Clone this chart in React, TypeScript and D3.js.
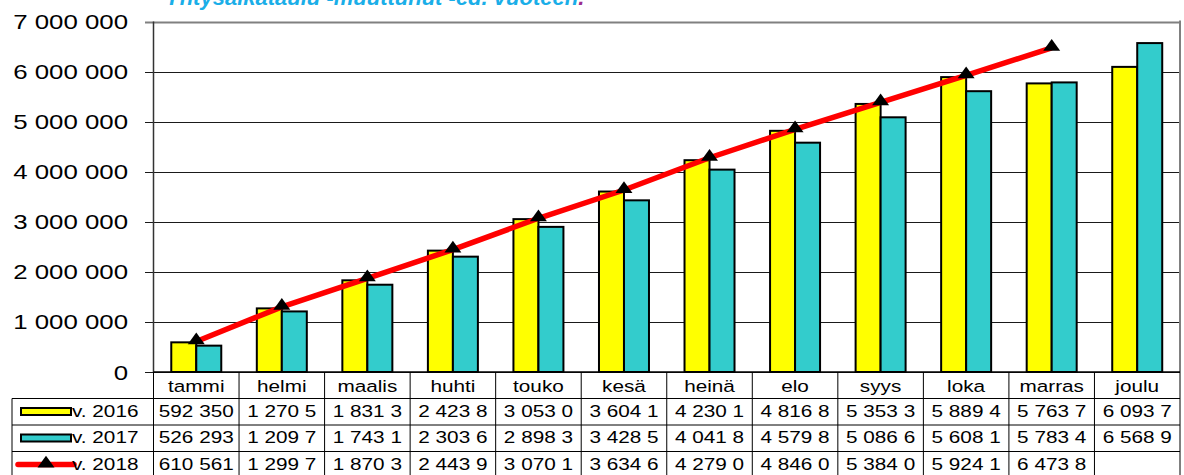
import React from "react";
import * as d3 from "d3";

const months = ["tammi", "helmi", "maalis", "huhti", "touko", "kesä", "heinä", "elo", "syys", "loka", "marras", "joulu"];
const v2016 = [592350, 1270500, 1831300, 2423800, 3053000, 3604100, 4230100, 4816800, 5353300, 5889400, 5763700, 6093700];
const v2017 = [526293, 1209700, 1743100, 2303600, 2898300, 3428500, 4041800, 4579800, 5086600, 5608100, 5783400, 6568900];
const v2018 = [610561, 1299700, 1870300, 2443900, 3070100, 3634600, 4279000, 4846000, 5384000, 5924100, 6473800];
const yTicks = [0, 1000000, 2000000, 3000000, 4000000, 5000000, 6000000, 7000000];
const seriesNames = ["v. 2016", "v. 2017", "v. 2018"];
const title = "Yhtysaikataulu -muuttunut -ed. vuoteen";

const W = 1184;
const H = 475;
const L = 153.5;
const R = 1180;
const T = 21.5;
const B = 372;
const FONT = "'Liberation Sans', Arial, sans-serif";
const SX = 1.22;

const fmt = (v: number) => d3.format(",")(v).replace(/,/g, " ");

// approximate stretched width of digit/space strings
const strWidth = (s: string, size: number) =>
  s.split("").reduce((a, c) => a + (c === " " ? 0.278 : 0.556), 0) * size * SX;

const fitText = (s: string, size: number, maxW: number) => {
  let t = s;
  while (t.length > 0 && strWidth(t, size) > maxW) t = t.slice(0, -1);
  return t.trimEnd();
};

function SText(props: { x: number; y: number; size: number; anchor?: string; children: any; fill?: string; sx?: number }) {
  const { x, y, size, anchor = "start", children, fill = "#000", sx = SX } = props;
  return (
    <text
      transform={`translate(${x},${y}) scale(${sx},1)`}
      fontSize={size}
      fontFamily={FONT}
      textAnchor={anchor}
      fill={fill}
    >
      {children}
    </text>
  );
}

export default function App() {
  const x = d3.scaleBand<string>().domain(months).range([L, R]).paddingInner(0).paddingOuter(0);
  const bw = x.bandwidth();
  const xs = d3.scaleBand<string>().domain(["2016", "2017"]).range([0, bw]).paddingInner(0).paddingOuter(0.711);
  const y = d3.scaleLinear().domain([0, 7000000]).range([B, T]);

  const line = d3
    .line<number>()
    .x((_, i) => (x(months[i]) as number) + bw / 2)
    .y((d) => y(d));

  const rowTops = [B, 398.5, 425, 451.5, 478];
  const tri = d3.symbol().type(d3.symbolTriangle).size(80)() as string;

  const barSeries = [
    { key: "2016", vals: v2016, fill: "#ffff00" },
    { key: "2017", vals: v2017, fill: "#33cccc" },
  ];

  return (
    <svg width={W} height={H} style={{ position: "absolute", left: 0, top: 0, background: "#fff" }}>
      <rect x={0} y={0} width={W} height={H} fill="#fff" />
      {/* clipped title */}
      <text x={165} y={5} fontSize={22} fontWeight="bold" fontStyle="italic" fontFamily={FONT} fill="#1aaee8">
        {title}
        <tspan fill="#9b2d8f">.</tspan>
      </text>

      {/* grid lines */}
      {yTicks.map((t) => (
        <line
          key={t}
          x1={145}
          x2={R}
          y1={Math.round(y(t)) + 0.5}
          y2={Math.round(y(t)) + 0.5}
          stroke={t === 7000000 ? "#808080" : "#1a1a1a"}
          strokeWidth={t === 7000000 ? 2 : 1}
        />
      ))}
      {yTicks.map((t) => (
        <SText key={"l" + t} x={128} y={y(t) + 7.5} size={21} anchor="end" sx={1.23}>
          {fmt(t)}
        </SText>
      ))}
      {/* right border */}
      <line x1={R} x2={R} y1={T - 1} y2={B} stroke="#808080" strokeWidth={2} />
      {/* left axis */}
      <line x1={L} x2={L} y1={T} y2={B} stroke="#333" strokeWidth={1.5} />

      {/* bars */}
      {barSeries.map((s) =>
        s.vals.map((v, i) => {
          const bx = (x(months[i]) as number) + (xs(s.key) as number);
          return (
            <rect
              key={s.key + i}
              x={bx}
              y={y(v)}
              width={xs.bandwidth()}
              height={B - y(v)}
              fill={s.fill}
              stroke="#000"
              strokeWidth={2}
            />
          );
        })
      )}

      {/* 2018 line */}
      <path d={line(v2018) as string} fill="none" stroke="#ff0000" strokeWidth={5.5} strokeLinejoin="round" />
      {v2018.map((v, i) => (
        <path key={"t" + i} d={tri} transform={`translate(${(x(months[i]) as number) + bw / 2},${y(v) - 1}) scale(1.25,1)`} fill="#000" />
      ))}

      {/* data table */}
      <line x1={L} x2={R} y1={B} y2={B} stroke="#000" strokeWidth={1.5} />
      {rowTops.slice(1, 4).map((ry) => (
        <line key={"h" + ry} x1={12} x2={R} y1={ry} y2={ry} stroke="#000" strokeWidth={1} />
      ))}
      <line x1={12} x2={12} y1={rowTops[1]} y2={H} stroke="#000" strokeWidth={1} />
      {months.map((m) => (
        <line key={"v" + m} x1={x(m) as number} x2={x(m) as number} y1={B} y2={H} stroke="#000" strokeWidth={1} />
      ))}
      <line x1={R} x2={R} y1={B} y2={H} stroke="#000" strokeWidth={1} />

      {months.map((m) => (
        <SText key={"m" + m} x={(x(m) as number) + bw / 2} y={391.5} size={17} anchor="middle">
          {m}
        </SText>
      ))}

      {[v2016, v2017, v2018].map((vals, r) =>
        vals.map((v, i) => (
          <SText
            key={"c" + r + i}
            x={(x(months[i]) as number) + bw / 2}
            y={rowTops[r + 1] + 18}
            size={17}
            anchor="middle"
          >
            {fitText(fmt(v), 17, 76)}
          </SText>
        ))
      )}

      {/* legend keys */}
      <rect x={21} y={rowTops[1] + 9.5} width={50} height={7} fill="#ffff00" stroke="#000" strokeWidth={2} />
      <rect x={21} y={rowTops[2] + 9.5} width={50} height={7} fill="#33cccc" stroke="#000" strokeWidth={2} />
      <line x1={18} x2={74} y1={rowTops[3] + 13} y2={rowTops[3] + 13} stroke="#ff0000" strokeWidth={5.5} strokeLinecap="round" />
      <path d={tri} transform={`translate(46,${rowTops[3] + 12}) scale(1.25,1)`} fill="#000" />
      {seriesNames.map((s, r) => (
        <SText key={s} x={72} y={rowTops[r + 1] + 18} size={17}>
          {s}
        </SText>
      ))}
    </svg>
  );
}
